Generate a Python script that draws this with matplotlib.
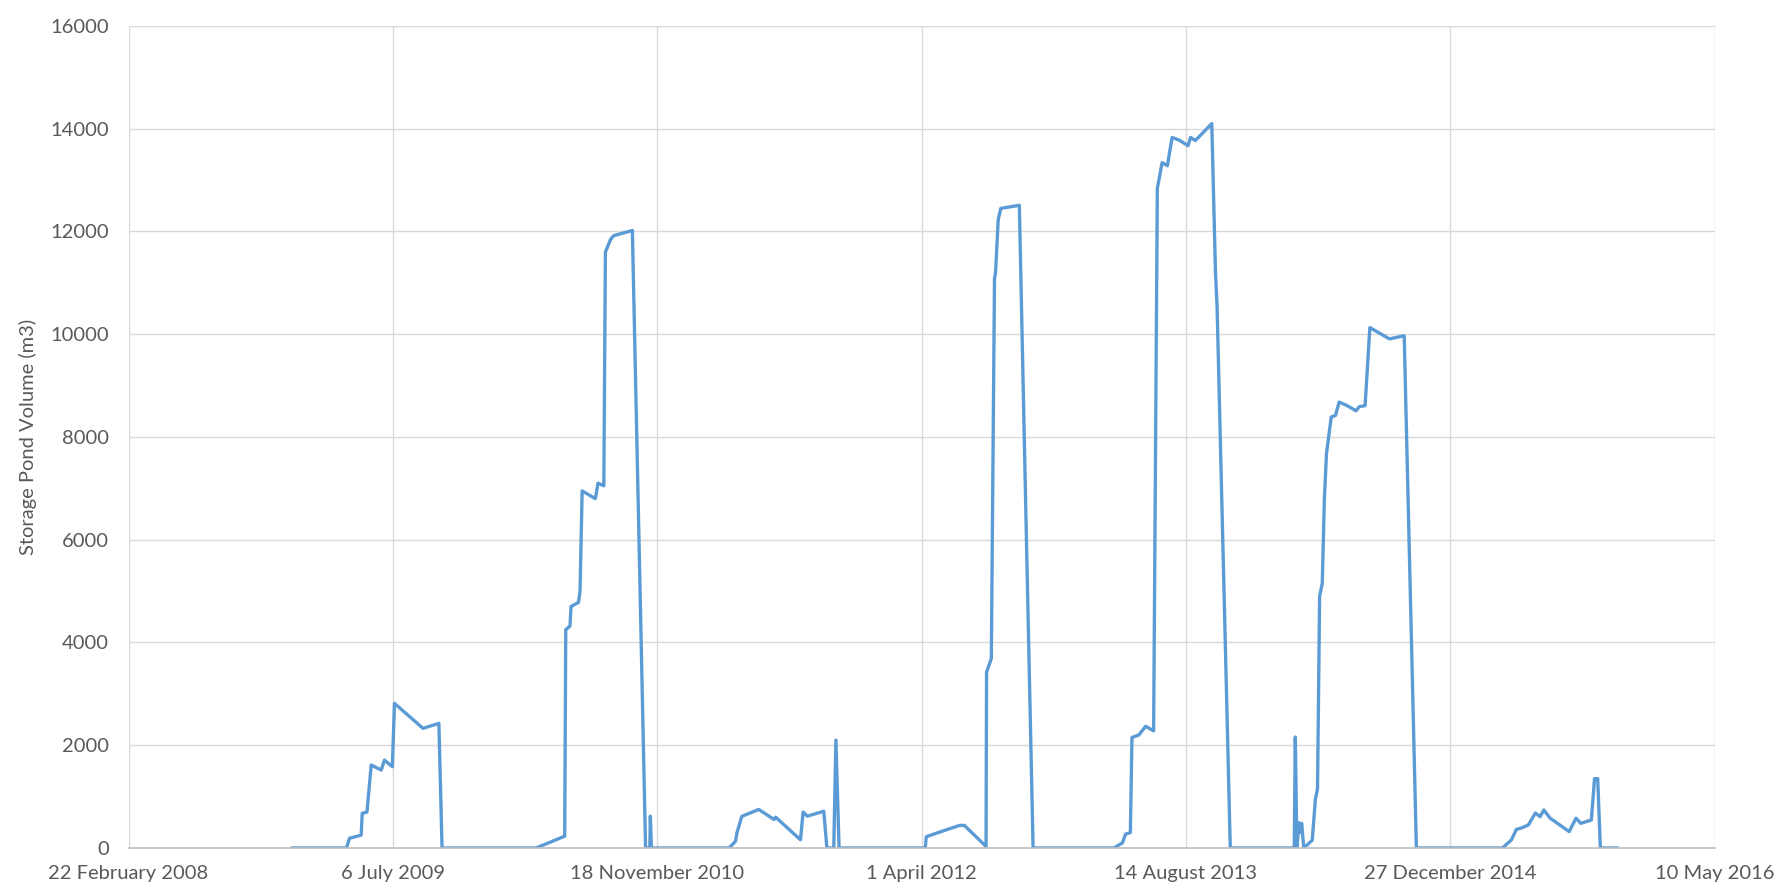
import numpy as np
import pandas as pd
import matplotlib
matplotlib.use("Agg")
import matplotlib.pyplot as plt
import matplotlib.dates as mdates

# Storage pond volume
dates = [
    '2008-12-28', '2009-04-09', '2009-04-15', '2009-05-07', '2009-05-09', '2009-05-18',
    '2009-05-26', '2009-06-14', '2009-06-20', '2009-07-05', '2009-07-09', '2009-09-01',
    '2009-10-01', '2009-10-07', '2010-04-03', '2010-05-27', '2010-05-29', '2010-06-06',
    '2010-06-08', '2010-06-22', '2010-06-25', '2010-06-29', '2010-07-24', '2010-07-29',
    '2010-08-09', '2010-08-12', '2010-08-22', '2010-08-28', '2010-10-02', '2010-10-27',
    '2010-11-04', '2010-11-05', '2010-11-07', '2011-04-03', '2011-04-15', '2011-04-18',
    '2011-04-27', '2011-05-29', '2011-06-27', '2011-06-30', '2011-08-16', '2011-08-21',
    '2011-08-29', '2011-09-29', '2011-10-05', '2011-10-18', '2011-10-22', '2011-10-28',
    '2012-04-08', '2012-04-10', '2012-05-11', '2012-06-12', '2012-06-21', '2012-08-01',
    '2012-08-02', '2012-08-11', '2012-08-17', '2012-08-19', '2012-08-24', '2012-08-29',
    '2012-10-03', '2012-10-16', '2012-10-29', '2013-03-31', '2013-04-16', '2013-04-22',
    '2013-05-01', '2013-05-04', '2013-05-17', '2013-05-30', '2013-06-14', '2013-06-21',
    '2013-06-24', '2013-06-30', '2013-07-10', '2013-07-19', '2013-08-01', '2013-08-18',
    '2013-08-23', '2013-09-01', '2013-10-02', '2013-10-09', '2013-10-12', '2013-11-06',
    '2014-03-07', '2014-03-09', '2014-03-12', '2014-03-16', '2014-03-19', '2014-03-21',
    '2014-03-25', '2014-04-10', '2014-04-16', '2014-04-20', '2014-04-24', '2014-04-29',
    '2014-05-03', '2014-05-07', '2014-05-16', '2014-05-24', '2014-05-31', '2014-06-15',
    '2014-07-02', '2014-07-08', '2014-07-19', '2014-07-28', '2014-09-03', '2014-10-01',
    '2014-10-24', '2015-04-05', '2015-04-22', '2015-05-01', '2015-05-11', '2015-05-24',
    '2015-06-06', '2015-06-15', '2015-06-22', '2015-07-04', '2015-08-09', '2015-08-22',
    '2015-08-31', '2015-09-20', '2015-09-26', '2015-10-02', '2015-10-07', '2015-11-08',
]
volume = [
    0, 0, 190, 250, 675, 700,
    1615, 1517, 1712, 1582, 2815, 2329,
    2426, 0, 0, 230, 4250, 4320,
    4700, 4780, 5000, 6950, 6800, 7100,
    7050, 11600, 11850, 11920, 12020, 0,
    0, 620, 0, 0, 130, 300,
    615, 750, 555, 600, 160, 700,
    620, 715, 0, 0, 2100, 0,
    0, 220, 330, 440, 440, 30,
    3420, 3690, 11080, 11200, 12230, 12450,
    12510, 6200, 0, 0, 100, 270,
    300, 2150, 2200, 2370, 2280, 12840,
    13000, 13340, 13280, 13830, 13780, 13670,
    13830, 13770, 14100, 11200, 10550, 0,
    0, 2160, 0, 490, 300, 480,
    0, 150, 950, 1150, 4900, 5150,
    6800, 7680, 8390, 8420, 8680, 8610,
    8510, 8590, 8610, 10130, 9910, 9970,
    0, 0, 160, 360, 390, 450,
    680, 610, 740, 580, 320, 580,
    480, 545, 1350, 1350, 0, 0,
]

# x axis: Excel-style date ticks every 500 days
x_start = pd.Timestamp('2008-02-22')
x_ticks = [x_start + pd.Timedelta(days=500 * i) for i in range(7)]
y_ticks = [0, 2000, 4000, 6000, 8000, 10000, 12000, 14000, 16000]

plt.rcParams['font.family'] = ['Lato', 'DejaVu Sans']

fig = plt.figure(figsize=(17.83, 8.90), dpi=100)
ax = fig.add_axes([0.0721, 0.0472, 0.8895, 0.9236])

ax.plot(pd.to_datetime(dates), volume, color='#5B9BD5', linewidth=2.4)

ax.set_xlim(x_ticks[0], x_ticks[-1])
ax.set_ylim(0, 16000)
ax.set_xticks(x_ticks)
ax.set_xticklabels(['{} {}'.format(d.day, d.strftime('%B %Y')) for d in x_ticks])
ax.set_yticks(y_ticks)
ax.set_yticklabels([str(v) for v in y_ticks])

ax.grid(True, color='#D9D9D9', linewidth=1.0)
ax.set_axisbelow(True)
for side in ['top', 'right', 'left']:
    ax.spines[side].set_visible(False)
ax.spines['bottom'].set_color('#BFBFBF')
ax.spines['bottom'].set_linewidth(1.2)

ax.tick_params(axis='both', length=0, labelsize=14.5, labelcolor='#595959')
ax.tick_params(axis='x', pad=12)
ax.tick_params(axis='y', pad=14)

ax.set_ylabel('Storage Pond Volume (m3)', fontsize=14.5, color='#595959', labelpad=10)

fig.savefig('out.png', dpi=100, facecolor='white')
